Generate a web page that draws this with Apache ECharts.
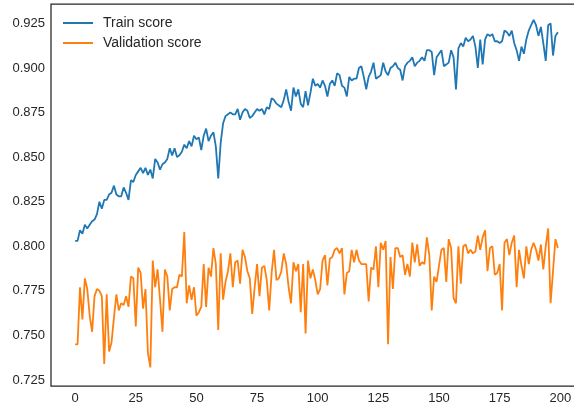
<!DOCTYPE html>
<html>
<head>
<meta charset="utf-8">
<script src="https://cdn.jsdelivr.net/npm/echarts@6/dist/echarts.min.js"></script>
<style>
html,body{margin:0;padding:0;background:#fff;}
#chart{width:574px;height:405px;}
</style>
</head>
<body>
<div id="chart"></div>
<script>
const seriesNames = ["Train score", "Validation score"];
const xTicks = [0, 25, 50, 75, 100, 125, 150, 175, 200];
const yTicks = [0.725, 0.750, 0.775, 0.800, 0.825, 0.850, 0.875, 0.900, 0.925];

const trainScore = [
0.803,0.803,0.809,0.807,0.812,0.810,0.812,0.814,0.815,0.818,
0.825,0.821,0.826,0.826,0.829,0.830,0.834,0.829,0.828,0.828,
0.833,0.830,0.826,0.837,0.836,0.840,0.842,0.844,0.841,0.844,
0.840,0.843,0.838,0.849,0.847,0.843,0.846,0.847,0.849,0.855,
0.851,0.855,0.850,0.851,0.853,0.857,0.855,0.859,0.856,0.862,
0.860,0.861,0.854,0.862,0.866,0.859,0.862,0.864,0.856,0.838,
0.858,0.869,0.873,0.874,0.875,0.874,0.874,0.877,0.871,0.875,
0.877,0.876,0.872,0.873,0.875,0.877,0.876,0.877,0.874,0.878,
0.877,0.883,0.882,0.880,0.879,0.878,0.882,0.888,0.881,0.876,
0.889,0.884,0.888,0.880,0.878,0.887,0.879,0.886,0.894,0.890,
0.891,0.889,0.893,0.890,0.884,0.891,0.893,0.890,0.897,0.896,
0.890,0.889,0.884,0.895,0.893,0.894,0.894,0.900,0.901,0.895,
0.888,0.895,0.898,0.903,0.894,0.895,0.896,0.903,0.898,0.896,
0.900,0.901,0.903,0.900,0.899,0.893,0.901,0.903,0.904,0.906,
0.901,0.903,0.904,0.906,0.904,0.910,0.910,0.909,0.896,0.906,
0.908,0.910,0.901,0.902,0.903,0.910,0.906,0.888,0.911,0.914,
0.912,0.917,0.915,0.916,0.918,0.912,0.900,0.916,0.902,0.916,
0.919,0.918,0.919,0.915,0.915,0.914,0.915,0.921,0.920,0.918,
0.921,0.914,0.910,0.904,0.912,0.908,0.916,0.921,0.924,0.927,
0.924,0.918,0.923,0.914,0.904,0.924,0.925,0.907,0.918,0.920
];

const validationScore = [
0.745,0.745,0.777,0.759,0.782,0.776,0.761,0.752,0.772,0.776,
0.775,0.772,0.734,0.773,0.741,0.746,0.760,0.773,0.764,0.768,
0.767,0.772,0.766,0.783,0.782,0.755,0.788,0.785,0.765,0.776,
0.740,0.732,0.792,0.777,0.787,0.770,0.752,0.787,0.783,0.764,
0.776,0.777,0.777,0.784,0.783,0.808,0.768,0.778,0.770,0.777,
0.761,0.763,0.766,0.790,0.766,0.788,0.783,0.799,0.790,0.753,
0.796,0.770,0.780,0.786,0.796,0.777,0.791,0.792,0.779,0.798,
0.794,0.786,0.782,0.762,0.777,0.790,0.772,0.788,0.789,0.781,
0.764,0.785,0.798,0.781,0.782,0.786,0.796,0.790,0.777,0.768,
0.791,0.786,0.790,0.763,0.790,0.751,0.792,0.782,0.787,0.781,
0.773,0.776,0.792,0.795,0.778,0.793,0.794,0.798,0.799,0.796,
0.799,0.773,0.785,0.786,0.798,0.791,0.798,0.792,0.790,0.790,
0.790,0.769,0.788,0.787,0.800,0.777,0.802,0.798,0.803,0.745,
0.794,0.776,0.799,0.799,0.794,0.795,0.784,0.790,0.783,0.802,
0.791,0.801,0.789,0.791,0.790,0.805,0.795,0.764,0.783,0.780,
0.789,0.798,0.799,0.780,0.804,0.799,0.771,0.768,0.800,0.779,
0.800,0.801,0.796,0.798,0.796,0.797,0.806,0.798,0.805,0.809,
0.786,0.799,0.800,0.784,0.785,0.790,0.764,0.802,0.804,0.795,
0.802,0.806,0.777,0.798,0.789,0.782,0.800,0.790,0.798,0.802,
0.798,0.792,0.801,0.787,0.800,0.810,0.768,0.786,0.804,0.799
];

const chart = echarts.init(document.getElementById('chart'), null, {renderer: 'canvas'});
const font = 'Liberation Sans, Arial, sans-serif';
const textColor = '#262626';

chart.setOption({
  animation: false,
  backgroundColor: '#ffffff',
  grid: {
    left: 51, top: 4, width: 531, height: 382,
    outerBoundsMode: 'none',
    containLabel: false,
    show: true, borderColor: '#262626', borderWidth: 1.25, backgroundColor: 'transparent'
  },
  legend: {
    orient: 'vertical',
    left: 63, top: 16,
    padding: 0,
    itemWidth: 30, itemHeight: 2,
    itemGap: 6,
    icon: 'rect',
    data: seriesNames,
    textStyle: { fontFamily: font, fontSize: 14, color: textColor, lineHeight: 14, padding: [0, 0, 0, 5] }
  },
  xAxis: {
    type: 'value',
    min: -9.95, max: 208.95,
    axisLine: { show: false },
    axisTick: { show: false },
    splitLine: { show: false },
    axisLabel: {
      customValues: xTicks,
      fontFamily: font, fontSize: 13, color: textColor, margin: 6,
      formatter: v => String(v)
    }
  },
  yAxis: {
    type: 'value',
    min: 0.7216, max: 0.9359,
    axisLine: { show: false },
    axisTick: { show: false },
    splitLine: { show: false },
    axisLabel: {
      customValues: yTicks,
      fontFamily: font, fontSize: 13, color: textColor, margin: 6,
      formatter: v => v.toFixed(3)
    }
  },
  series: [
    {
      name: seriesNames[0], type: 'line', symbol: 'none',
      data: trainScore.map((v, i) => [i, v]),
      lineStyle: { color: '#1f77b4', width: 1.8 },
      itemStyle: { color: '#1f77b4' }
    },
    {
      name: seriesNames[1], type: 'line', symbol: 'none',
      data: validationScore.map((v, i) => [i, v]),
      lineStyle: { color: '#ff7f0e', width: 1.8 },
      itemStyle: { color: '#ff7f0e' }
    }
  ]
});
</script>
</body>
</html>
